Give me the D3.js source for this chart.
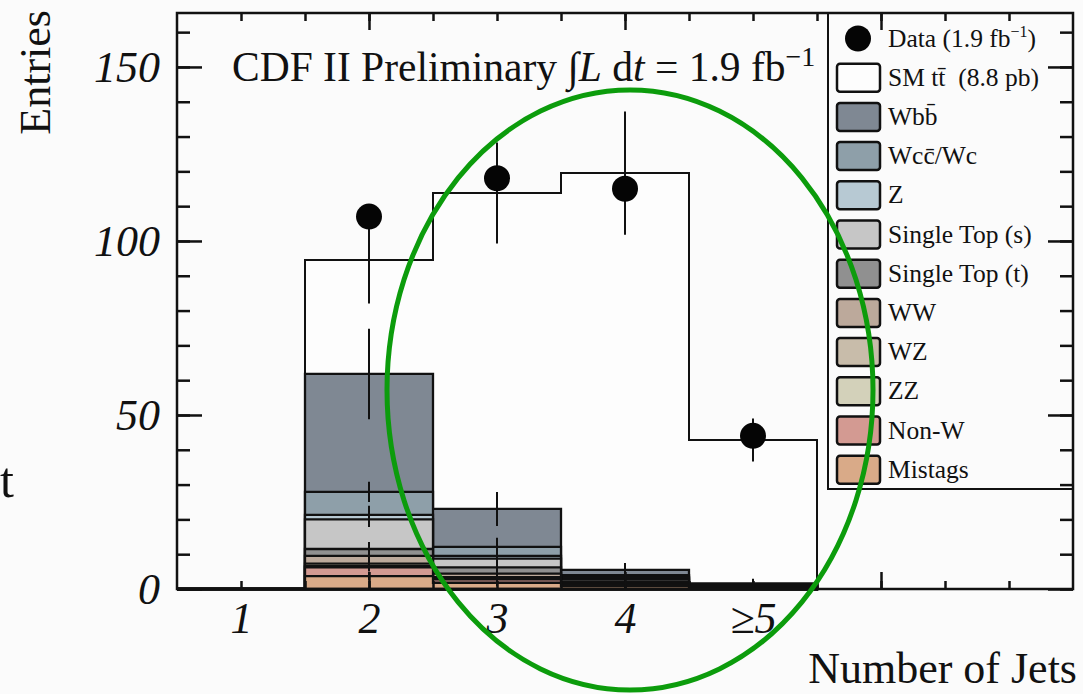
<!DOCTYPE html>
<html><head><meta charset="utf-8">
<script src="https://cdn.jsdelivr.net/npm/d3@7"></script>
<style>
html,body{margin:0;padding:0;background:#fbfbfb;}
svg{display:block;}
text{font-family:"Liberation Serif","Times New Roman",serif;fill:#111;}
</style></head><body>
<svg id="c" width="1083" height="694"></svg>
<script>
// ---- data ----
const binLabels = ["1","2","3","4","\u22655"];
const binCenters = [1,2,3,4,5];
const dataCounts = [0,107,118,115,44];
// stacked components (bottom to top)
const mistags    = [0,3.7,1.8,0.8,0.3];
const nonW       = [0,2.5,1.0,0.5,0.3];
const zz         = [0,0.4,0.2,0.1,0.02];
const wz         = [0,0.7,0.4,0.2,0.05];
const ww         = [0,2.2,1.0,0.4,0.1];
const singleTopT = [0,2.0,1.8,0.7,0.2];
const singleTopS = [0,8.5,2.5,0.5,0.1];
const zjets      = [0,1.3,0.8,0.3,0.1];
const wcc        = [0,6.6,2.6,0.5,0.15];
const wbb        = [0,33.9,10.9,1.5,0.3];
const ttbar      = [0,32.7,90.8,114.0,41.2];
// uncertainties on the cumulative sums
const errMistags    = [0,1.2,1.0,0.5,0.3];
const errNonW       = [0,1.2,0.8,0.5,0.3];
const errZZ         = [0,1.2,0.8,0.5,0.3];
const errWZ         = [0,1.2,0.8,0.5,0.3];
const errWW         = [0,1.5,1.0,0.6,0.3];
const errSingleTopT = [0,2.0,1.5,0.8,0.4];
const errSingleTopS = [0,2.2,1.5,0.8,0.4];
const errZjets      = [0,2.6,1.5,0.8,0.4];
const errWcc        = [0,2.9,2.6,1.0,0.5];
const errWbb        = [0,13.0,4.9,2.0,1.3];
const errTtbar      = [0,12.5,14.5,17.7,6.2];
const yMajorTicks = [0,50,100,150];
const yMinorTicks = d3.range(0,170,10);
const xMajorTicks = [2,4,6];
const xMinorTicks = d3.range(1,7.01,0.5);

// ---- series definitions ----
const series = [
  {key:"Mistags", values:mistags, err:errMistags, color:"#d9aa88", label:[{t:"Mistags"}]},
  {key:"NonW", values:nonW, err:errNonW, color:"#d39a92", label:[{t:"Non-W"}]},
  {key:"ZZ", values:zz, err:errZZ, color:"#d3d1ba", label:[{t:"ZZ"}]},
  {key:"WZ", values:wz, err:errWZ, color:"#c8bcaa", label:[{t:"WZ"}]},
  {key:"WW", values:ww, err:errWW, color:"#bca99b", label:[{t:"WW"}]},
  {key:"STt", values:singleTopT, err:errSingleTopT, color:"#909090", label:[{t:"Single Top (t)"}]},
  {key:"STs", values:singleTopS, err:errSingleTopS, color:"#c6c6c6", label:[{t:"Single Top (s)"}]},
  {key:"Z", values:zjets, err:errZjets, color:"#b7c9d3", label:[{t:"Z"}]},
  {key:"Wcc", values:wcc, err:errWcc, color:"#8e9fa9", label:[{t:"Wc"},{t:"c\u0304"},{t:"/Wc"}]},
  {key:"Wbb", values:wbb, err:errWbb, color:"#7f8893", label:[{t:"Wb"},{t:"b\u0304"}]},
  {key:"tt", values:ttbar, err:errTtbar, color:"#fdfdfd", label:[{t:"SM t"},{t:"t\u0304"},{t:"  (8.8 pb)"}]}
];

const svg = d3.select("#c");
svg.append("rect").attr("width",1083).attr("height",694).attr("fill","#fbfbfb");

const x = d3.scaleLinear().domain([0.5,7.5]).range([177,1073]);
const y = d3.scaleLinear().domain([0,165.5]).range([589,13]);

const table = binCenters.map((b,i)=>{const r={bin:b}; series.forEach(s=>r[s.key]=s.values[i]); return r;});
const stacked = d3.stack().keys(series.map(s=>s.key))(table);

const area = d3.area().curve(d3.curveStepAfter)
  .x(p=>x(p.x)).y0(y(0)).y1(p=>y(p.v));

const gHist = svg.append("g");
for (let li = stacked.length-1; li>=0; li--){
  const L = stacked[li], s = series[li];
  const pts = L.map((d,i)=>({x:binCenters[i]-0.5, v:d[1]}));
  pts.push({x:binCenters[binCenters.length-1]+0.5, v:L[L.length-1][1]});
  gHist.append("path").attr("d",area(pts))
    .attr("fill",s.color).attr("stroke","#111").attr("stroke-width",li===stacked.length-1?2:2.3);
  L.forEach((d,i)=>{
    if (d[1]<=0) return;
    const e = s.err[i];
    gHist.append("line")
      .attr("x1",x(binCenters[i])).attr("x2",x(binCenters[i]))
      .attr("y1",y(d[1]+e)).attr("y2",y(Math.max(d[1]-e,0)))
      .attr("stroke","#111").attr("stroke-width",2);
  });
}

// data points
svg.append("g").selectAll("circle")
  .data(binCenters.map((b,i)=>({b,v:dataCounts[i]})).filter(d=>d.v>0))
  .join("circle").attr("cx",d=>x(d.b)).attr("cy",d=>y(d.v)).attr("r",13).attr("fill","#050505");

// legend
const lg = svg.append("g");
lg.append("rect").attr("x",828).attr("y",13).attr("width",245).attr("height",476)
  .attr("fill","#fbfbfb").attr("stroke","#111").attr("stroke-width",2);
const legendItems = [{type:"data", label:[{t:"Data (1.9 fb"},{t:"\u22121",sup:true},{t:")"}]}]
  .concat(series.slice().reverse().map(s=>({type:"box",color:s.color,label:s.label})));
legendItems.forEach((it,i)=>{
  const cy = 38.5 + i*39.2;
  if (it.type==="data"){
    lg.append("circle").attr("cx",858).attr("cy",cy).attr("r",13).attr("fill","#050505");
  } else {
    lg.append("rect").attr("x",837).attr("y",cy-14).attr("width",43).attr("height",28).attr("rx",3)
      .attr("fill",it.color).attr("stroke","#111").attr("stroke-width",2.5);
  }
  const t = lg.append("text").attr("x",888).attr("y",cy+8).attr("font-size",25.5)
    .attr("xml:space","preserve").style("white-space","pre");
  it.label.forEach(seg=>{
    const ts = t.append("tspan").text(seg.t);
    if (seg.sup) ts.attr("font-size",16).attr("dy",-10);
    else if (seg === it.label[2] && it.label[1].sup) ts.attr("dy",10);
  });
});

// axes ticks
function styleAxis(g){ g.select(".domain").remove(); g.selectAll("line").attr("stroke","#111").attr("stroke-width",2.5); }
svg.append("g").attr("transform","translate(0,589)").call(d3.axisBottom(x).tickValues(xMinorTicks).tickSize(-8).tickFormat("")).call(styleAxis);
svg.append("g").attr("transform","translate(0,589)").call(d3.axisBottom(x).tickValues(xMajorTicks).tickSize(-17).tickFormat("")).call(styleAxis);
svg.append("g").attr("transform","translate(0,13)").call(d3.axisTop(x).tickValues(xMinorTicks).tickSize(-8).tickFormat("")).call(styleAxis);
svg.append("g").attr("transform","translate(0,13)").call(d3.axisTop(x).tickValues(xMajorTicks).tickSize(-17).tickFormat("")).call(styleAxis);
svg.append("g").attr("transform","translate(177,0)").call(d3.axisLeft(y).tickValues(yMinorTicks).tickSize(-13).tickFormat("")).call(styleAxis);
svg.append("g").attr("transform","translate(177,0)").call(d3.axisLeft(y).tickValues(yMajorTicks).tickSize(-25).tickFormat("")).call(styleAxis);
svg.append("g").attr("transform","translate(1073,0)").call(d3.axisRight(y).tickValues(yMinorTicks).tickSize(-13).tickFormat("")).call(styleAxis);
svg.append("g").attr("transform","translate(1073,0)").call(d3.axisRight(y).tickValues(yMajorTicks).tickSize(-25).tickFormat("")).call(styleAxis);

// frame
svg.append("rect").attr("x",177).attr("y",13).attr("width",896).attr("height",576)
  .attr("fill","none").attr("stroke","#111").attr("stroke-width",2.5);

// tick labels
function styleLabels(g){
  g.select(".domain").remove(); g.selectAll("line").remove();
  g.selectAll("text").style("font-family","'Liberation Serif',serif").style("font-size","44px")
   .style("font-style","italic").attr("fill","#111");
}
svg.append("g").attr("transform","translate(177,0)")
  .call(d3.axisLeft(y).tickValues(yMajorTicks).tickSize(0).tickPadding(17)).call(styleLabels);
svg.append("g").attr("transform","translate(0,589)")
  .call(d3.axisBottom(x).tickValues(binCenters).tickSize(0).tickPadding(13).tickFormat((d,i)=>binLabels[i])).call(styleLabels);

// titles
svg.append("text").attr("x",1077).attr("y",683).attr("text-anchor","end").attr("font-size",44).text("Number of Jets");
svg.append("text").attr("transform","translate(50,10) rotate(-90)").attr("text-anchor","end").attr("font-size",44).text("Entries");
svg.append("text").attr("x",0).attr("y",497).attr("font-size",50).text("t");

const title = svg.append("text").attr("x",232).attr("y",81).attr("font-size",41.5);
title.append("tspan").text("CDF II Preliminary ");
title.append("tspan").text("\u222B");
title.append("tspan").attr("font-style","italic").text("L");
title.append("tspan").text(" d");
title.append("tspan").attr("font-style","italic").text("t");
title.append("tspan").text(" = 1.9 fb");
title.append("tspan").attr("font-size",28).attr("dy",-15).text("\u22121");

// highlight ellipse
svg.append("ellipse").attr("cx",630).attr("cy",390).attr("rx",243).attr("ry",300)
  .attr("fill","none").attr("stroke","#0c9c0c").attr("stroke-width",5);
</script>
</body></html>
